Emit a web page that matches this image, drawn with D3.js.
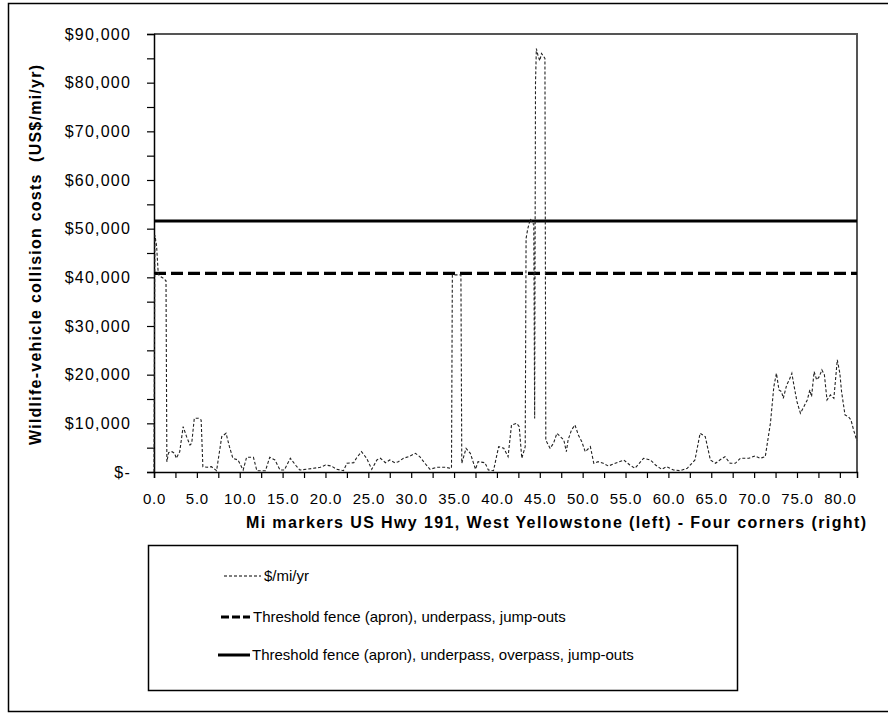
<!DOCTYPE html>
<html>
<head>
<meta charset="utf-8">
<script src="https://cdn.jsdelivr.net/npm/d3@7"></script>
<style>
    body { margin: 0; background: #fff; }
    svg { display: block; font-family: "Liberation Sans", Arial, sans-serif; }
</style>
</head>
<body>
<script>
"use strict";

// [mile marker, wildlife-vehicle collision cost in US$/mi/yr]
const costSeries = [
    [0.0, 0], [0.1, 48700], [0.3, 46500], [0.5, 40600], [0.8, 40100], [1.1, 39800], [1.4, 39300],
    [1.5, 2100], [1.7, 3970], [2.1, 4170], [2.4, 3840], [2.6, 2820], [3.0, 4170], [3.4, 9310],
    [3.8, 7260], [4.2, 5550], [4.4, 5900], [4.7, 11040], [5.2, 11040], [5.5, 10690], [5.7, 1090],
    [6.2, 970], [6.7, 1090], [7.3, 270], [7.9, 7260], [8.4, 7960], [8.8, 5200], [9.2, 2820],
    [9.8, 2470], [10.4, 410], [10.8, 3020], [11.6, 3020], [12.0, 270], [13.0, 270], [13.5, 3020],
    [14.1, 2470], [14.7, 410], [15.2, 410], [15.9, 2820], [16.6, 1230], [17.0, 410], [17.8, 560],
    [18.6, 760], [19.4, 970], [20.0, 1440], [20.7, 1230], [21.3, 560], [22.1, 270], [22.5, 1790],
    [23.3, 1910], [23.6, 2820], [24.2, 4170], [24.8, 2820], [25.4, 560], [26.0, 2470], [26.4, 2820],
    [27.0, 1910], [27.5, 2470], [28.1, 1910], [28.5, 2120], [29.1, 2820], [29.7, 3150], [30.5, 3840],
    [31.0, 3150], [31.6, 1790], [32.2, 560], [33.0, 970], [33.6, 970], [34.0, 970], [34.6, 760],
    [34.7, 760], [34.8, 40500], [35.3, 40500], [35.8, 40500], [35.9, 1790], [36.4, 4870], [36.9, 3840],
    [37.5, 560], [37.8, 2120], [38.6, 1910], [39.0, 410], [39.6, 270], [40.2, 5200], [40.8, 4870],
    [41.3, 3150], [41.7, 9660], [42.3, 10010], [42.6, 9310], [42.9, 2820], [43.3, 5200], [43.4, 48000],
    [43.6, 50000], [43.9, 52000], [44.2, 51000], [44.3, 51000], [44.4, 11000], [44.5, 80000],
    [44.6, 87000], [44.8, 85500], [45.0, 84500], [45.2, 86000], [45.4, 85500], [45.6, 85000],
    [45.7, 6500], [45.8, 6230], [46.2, 4870], [46.6, 5900], [47.0, 7960], [47.4, 7260], [47.8, 6580],
    [48.1, 4170], [48.3, 6580], [48.7, 8640], [49.1, 9660], [49.5, 7610], [49.9, 6230], [50.3, 4170],
    [50.9, 5200], [51.3, 1790], [51.8, 2120], [52.4, 1790], [53.0, 1230], [53.8, 1790], [54.8, 2470],
    [55.5, 1440], [56.1, 760], [57.1, 2820], [57.9, 2470], [58.5, 1440], [59.2, 560], [59.8, 1090],
    [60.6, 410], [61.4, 270], [62.2, 760], [63.1, 2470], [63.7, 7960], [64.3, 7260], [64.9, 2470],
    [65.5, 1790], [66.0, 2470], [66.6, 3150], [67.2, 1790], [67.8, 1790], [68.4, 2820], [69.4, 2820],
    [70.1, 3290], [70.7, 2820], [71.3, 3150], [71.9, 10010], [72.3, 17540], [72.6, 20290], [72.9, 16860],
    [73.2, 16510], [73.4, 15150], [73.8, 17890], [74.1, 18920], [74.4, 20290], [74.6, 18240],
    [75.0, 14450], [75.4, 12070], [75.8, 13430], [76.2, 14800], [76.5, 16860], [76.7, 15480],
    [77.0, 20620], [77.3, 18920], [77.6, 19590], [77.9, 20970], [78.2, 19940], [78.5, 14800],
    [78.9, 15830], [79.3, 15150], [79.7, 23030], [80.0, 20290], [80.2, 16510], [80.6, 11720],
    [81.0, 11370], [81.3, 10690], [81.6, 8640], [81.9, 6930], [82.0, 6500]
]

const thresholdUnderpass = 40800
const thresholdOverpass = 51600
const mileRange = [0, 82]

const yTickValues = [0, 10000, 20000, 30000, 40000, 50000, 60000, 70000, 80000, 90000]
const xTickValues = [0, 5, 10, 15, 20, 25, 30, 35, 40, 45, 50, 55, 60, 65, 70, 75, 80]

const legendLabels = [
    "$/mi/yr",
    "Threshold fence (apron), underpass, jump-outs",
    "Threshold fence (apron), underpass, overpass, jump-outs"
]

const measurements = {
    width: 888,
    height: 725,
    left: 154,
    right: 857,
    top: 34,
    bottom: 472
}

const svg = d3.select("body").append("svg")
    .attr("width", measurements.width)
    .attr("height", measurements.height)

// outer chart border
svg.append("rect")
    .attr("x", 8.5).attr("y", 3.5)
    .attr("width", 900).attr("height", 708)
    .attr("fill", "none").attr("stroke", "#000").attr("stroke-width", 1.5)

const scaleX = d3.scaleLinear().domain(mileRange).range([measurements.left, measurements.right])
const scaleY = d3.scaleLinear().domain([0, 90000]).range([measurements.bottom, measurements.top])

// plot frame (top and right)
svg.append("path")
    .attr("d", `M${measurements.left},${measurements.top}H${measurements.right}V${measurements.bottom}`)
    .attr("fill", "none").attr("stroke", "#555").attr("stroke-width", 2)

// y axis, labels every 10,000 and extra ticks in between
const fmt = d3.format(",")
const yAxis = d3.axisLeft(scaleY)
    .tickValues(yTickValues)
    .tickSize(7)
    .tickPadding(16)
    .tickFormat(d => d === 0 ? "$-" : "$" + fmt(d))

const yMinor = d3.axisLeft(scaleY)
    .tickValues(yTickValues.slice(1).map(v => v - 5000))
    .tickSize(7)
    .tickFormat("")

const gy = svg.append("g").attr("transform", `translate(${measurements.left},0)`).call(yAxis)
svg.append("g").attr("transform", `translate(${measurements.left},0)`).call(yMinor)
    .select(".domain").remove()

gy.selectAll("text")
    .style("font-size", "16px")
    .style("letter-spacing", "1.2px")
    .attr("fill", "#000")

// x axis, ticks every 2.5 mi, labels every 5 mi
const xMinorValues = xTickValues.map(v => v + 2.5).filter(v => v < mileRange[1])
const xAxis = d3.axisBottom(scaleX)
    .tickValues(xTickValues.concat(xMinorValues))
    .tickSize(6)
    .tickPadding(15)
    .tickFormat(d => xTickValues.includes(d) ? d.toFixed(1) : "")

const gx = svg.append("g").attr("transform", `translate(0,${measurements.bottom})`).call(xAxis)
gx.selectAll("text")
    .style("font-size", "15px")
    .style("letter-spacing", "0.8px")
    .attr("fill", "#000")

svg.selectAll(".domain").attr("stroke", "#000").attr("stroke-width", 1.5)
svg.selectAll(".tick line").attr("stroke", "#000").attr("stroke-width", 1.2)

// threshold lines
const thresholdLine = d3.line()
    .x(d => scaleX(d[0]))
    .y(d => scaleY(d[1]))

svg.append("path")
    .datum(mileRange.map(m => [m, thresholdUnderpass]))
    .attr("d", thresholdLine)
    .attr("fill", "none").attr("stroke", "#000")
    .attr("stroke-width", 3.2).attr("stroke-dasharray", "12,5")

svg.append("path")
    .datum(mileRange.map(m => [m, thresholdOverpass]))
    .attr("d", thresholdLine)
    .attr("fill", "none").attr("stroke", "#000")
    .attr("stroke-width", 3)

// cost series
const costLine = d3.line()
    .x(d => scaleX(d[0]))
    .y(d => scaleY(d[1]))

svg.append("path")
    .datum(costSeries)
    .attr("d", costLine)
    .attr("fill", "none").attr("stroke", "#222")
    .attr("stroke-width", 1.1).attr("stroke-dasharray", "3,2")

// axis titles
svg.append("text")
    .attr("transform", "translate(41,255)rotate(-90)")
    .attr("text-anchor", "middle")
    .attr("textLength", 380).attr("lengthAdjust", "spacing")
    .style("font-size", "16px").style("font-weight", "bold")
    .attr("xml:space", "preserve")
    .text("Wildlife-vehicle collision costs  (US$/mi/yr)")

svg.append("text")
    .attr("x", 556).attr("y", 528)
    .attr("text-anchor", "middle")
    .attr("textLength", 620).attr("lengthAdjust", "spacing")
    .style("font-size", "16px").style("font-weight", "bold")
    .text("Mi markers US Hwy 191, West Yellowstone (left) - Four corners (right)")

// legend
const legend = svg.append("g")
legend.append("rect")
    .attr("x", 148.5).attr("y", 545.5)
    .attr("width", 589).attr("height", 145)
    .attr("fill", "#fff").attr("stroke", "#000").attr("stroke-width", 1.5)

const legendRows = [
    { y: 576, x1: 224, x2: 261, tx: 264, width: 1.1, dash: "3,2" },
    { y: 617, x1: 221, x2: 250, tx: 253, width: 3.2, dash: "8,3" },
    { y: 655, x1: 218, x2: 250, tx: 252, width: 3, dash: null }
]

legendRows.forEach((row, i) => {
    legend.append("line")
        .attr("x1", row.x1).attr("x2", row.x2)
        .attr("y1", row.y).attr("y2", row.y)
        .attr("stroke", "#000").attr("stroke-width", row.width)
        .attr("stroke-dasharray", row.dash)
    legend.append("text")
        .attr("x", row.tx).attr("y", row.y)
        .attr("dy", "0.35em")
        .style("font-size", "15px")
        .text(legendLabels[i])
})
</script>
</body>
</html>
